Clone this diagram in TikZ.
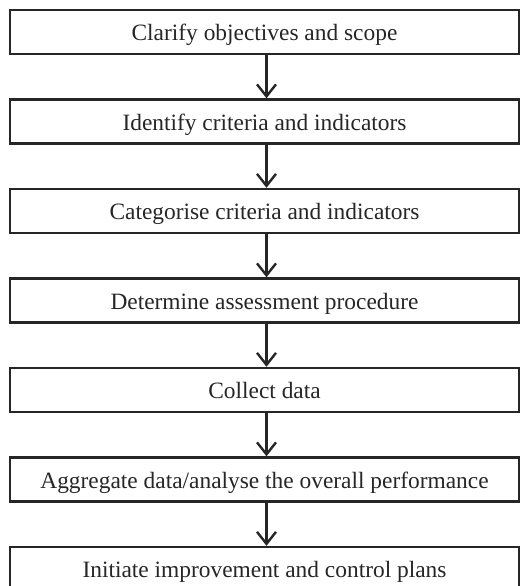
\documentclass[tikz,border=0pt]{standalone}
\usepackage{fontspec}
\setmainfont{Liberation Serif}
\usetikzlibrary{arrows.meta}
\begin{document}
\begin{tikzpicture}[x=1pt,y=1pt,
  stepbox/.style={draw=black!85, line width=2.4pt, minimum width=509pt, minimum height=44pt,
    inner sep=0pt, text height=19pt, text depth=1.6pt,
    font=\fontsize{23.4}{28}\selectfont, text=black!85},
  flow/.style={draw=black!85, line width=2.2pt, -{Straight Barb[length=12pt,width=19pt,line width=2.4pt]}}]
\useasboundingbox (0,0) rectangle (520,586);
\node[stepbox] (s1) at (264.5,554) {Clarify objectives and scope};
\node[stepbox] (s2) at (264.5,464.5) {Identify criteria and indicators};
\node[stepbox] (s3) at (264.5,375) {Categorise criteria and indicators};
\node[stepbox] (s4) at (264.5,285.5) {Determine assessment procedure};
\node[stepbox] (s5) at (264.5,196) {Collect data};
\node[stepbox] (s6) at (264.5,106.5) {Aggregate data/analyse the overall performance};
\node[stepbox] (s7) at (264.5,17) {Initiate improvement and control plans};
\foreach \a/\b in {s1/s2,s2/s3,s3/s4,s4/s5,s5/s6,s6/s7}
  \draw[flow] ([xshift=2pt]\a.south) -- ([xshift=2pt]\b.north);
\end{tikzpicture}
\end{document}
